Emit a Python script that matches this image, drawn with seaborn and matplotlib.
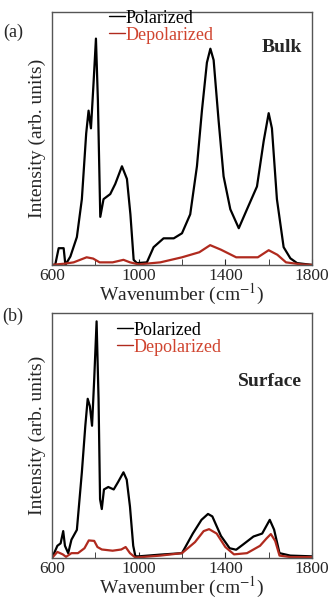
# Raman spectra - bulk vs surface, polarized / depolarized
import pandas as pd
import matplotlib
matplotlib.use("Agg")
import matplotlib.pyplot as plt
import seaborn as sns

# (a) Bulk (arb. units)
bulk_pol_x = [600, 615, 631, 654, 662, 685, 715, 738, 758, 769, 780, 792, 803, 812, 823, 838,
              869, 892, 923, 946, 962, 977, 992, 1038, 1069, 1115, 1162, 1200, 1238, 1269,
              1292, 1315, 1331, 1346, 1369, 1392, 1423, 1462, 1500, 1546, 1577, 1600, 1615,
              1638, 1669, 1700, 1731, 1800]
bulk_pol_y = [0.0, 0.0, 0.066, 0.066, 0.0, 0.033, 0.11, 0.26, 0.52, 0.61, 0.54, 0.72, 0.895,
              0.65, 0.19, 0.26, 0.28, 0.32, 0.39, 0.34, 0.20, 0.02, 0.007, 0.01, 0.07, 0.105,
              0.105, 0.125, 0.20, 0.39, 0.61, 0.80, 0.855, 0.81, 0.57, 0.35, 0.22, 0.145,
              0.22, 0.31, 0.49, 0.60, 0.54, 0.26, 0.07, 0.026, 0.007, 0.0]
bulk_dep_x = [600, 660, 700, 760, 790, 820, 880, 930, 960, 1000, 1100, 1200, 1280, 1330,
              1380, 1450, 1550, 1600, 1640, 1680, 1750, 1800]
bulk_dep_y = [0.0, 0.005, 0.01, 0.03, 0.025, 0.01, 0.01, 0.02, 0.01, 0.002, 0.01, 0.03,
              0.05, 0.078, 0.06, 0.03, 0.03, 0.058, 0.04, 0.01, 0.002, 0.0]

# (b) Surface
surf_pol_x = [600, 625, 640, 652, 660, 675, 690, 715, 738, 754, 765, 775, 785, 795, 806,
              815, 822, 830, 840, 860, 885, 905, 930, 945, 960, 975, 985, 1000, 1100, 1200,
              1250, 1290, 1320, 1340, 1380, 1420, 1450, 1480, 1530, 1570, 1605, 1625, 1650,
              1700, 1800]
surf_pol_y = [0.0, 0.05, 0.06, 0.11, 0.05, 0.02, 0.075, 0.115, 0.35, 0.54, 0.65, 0.62, 0.54,
              0.73, 0.966, 0.65, 0.24, 0.20, 0.28, 0.29, 0.28, 0.31, 0.35, 0.32, 0.21, 0.05,
              0.007, 0.007, 0.014, 0.02, 0.10, 0.156, 0.18, 0.17, 0.09, 0.04, 0.034, 0.054,
              0.088, 0.10, 0.156, 0.116, 0.02, 0.01, 0.007]
surf_dep_x = [600, 625, 650, 665, 690, 720, 750, 770, 795, 810, 830, 880, 920, 940, 960, 985,
              1100, 1200, 1260, 1300, 1325, 1360, 1400, 1440, 1500, 1560, 1590, 1610, 1630,
              1650, 1700, 1800]
surf_dep_y = [0.0, 0.025, 0.015, 0.005, 0.02, 0.02, 0.04, 0.072, 0.07, 0.045, 0.035, 0.03,
              0.035, 0.045, 0.02, 0.002, 0.01, 0.02, 0.065, 0.11, 0.118, 0.10, 0.045, 0.015,
              0.02, 0.05, 0.08, 0.098, 0.07, 0.01, 0.004, 0.004]

series_names = ["Polarized", "Depolarized"]
panel_labels = ["(a)", "(b)"]
panel_titles = ["Bulk", "Surface"]
xticks = [600, 1000, 1400, 1800]

sns.set_style("ticks")
plt.rcParams['font.family'] = ['Liberation Serif', 'DejaVu Serif']
plt.rcParams['mathtext.fontset'] = 'stix'

colors = {"Polarized": "black", "Depolarized": "#b02a1e"}

fig = plt.figure(figsize=(3.33, 6.02), dpi=100)
ax_a = fig.add_axes([0.156, 0.560, 0.781, 0.420])
ax_b = fig.add_axes([0.156, 0.073, 0.781, 0.407])


def make_df(px, py, dx, dy):
    d1 = pd.DataFrame({"x": px, "y": py, "s": series_names[0]})
    d2 = pd.DataFrame({"x": dx, "y": dy, "s": series_names[1]})
    return pd.concat([d1, d2], ignore_index=True)


panels = [
    (ax_a, make_df(bulk_pol_x, bulk_pol_y, bulk_dep_x, bulk_dep_y), (0.22, 1.01), (0.96, 0.86)),
    (ax_b, make_df(surf_pol_x, surf_pol_y, surf_dep_x, surf_dep_y), (0.25, 0.965), (0.96, 0.72)),
]

for i, (ax, df, leg_pos, title_pos) in enumerate(panels):
    sns.lineplot(data=df, x="x", y="y", hue="s", palette=colors, ax=ax,
                 linewidth=1.6, estimator=None, sort=False)
    ax.set_xlim(600, 1800)
    ax.set_ylim(0, 1.0)
    ax.set_xticks(xticks)
    ax.set_xticks([800, 1200, 1600], minor=True)
    ax.set_yticks([])
    ax.tick_params(axis='x', which='both', direction='in', labelsize=12.5, length=4, pad=2)
    ax.set_xlabel("Wavenumber (cm$^{-1}$)", fontsize=14, labelpad=-1)
    ax.set_ylabel("Intensity (arb. units)", fontsize=14, labelpad=4)
    for sp in ax.spines.values():
        sp.set_color("#555555")
        sp.set_linewidth(1.0)
    leg = ax.legend(loc="upper left", bbox_to_anchor=leg_pos, frameon=False, fontsize=13,
                    handlelength=0.9, handletextpad=0.0, labelspacing=0.0,
                    borderaxespad=0, borderpad=0)
    for txt, c in zip(leg.get_texts(), ["black", "#d0442f"]):
        txt.set_color(c)
    for ln in leg.get_lines():
        ln.set_linewidth(1.0)
    ax.text(title_pos[0], title_pos[1], panel_titles[i], transform=ax.transAxes,
            ha="right", va="center", fontsize=14, fontweight="bold")
    ax.text(-0.15, 0.92 if i == 0 else 0.985, panel_labels[i], transform=ax.transAxes,
            ha="center", va="center", fontsize=13)

fig.savefig("out.png", dpi=100)
